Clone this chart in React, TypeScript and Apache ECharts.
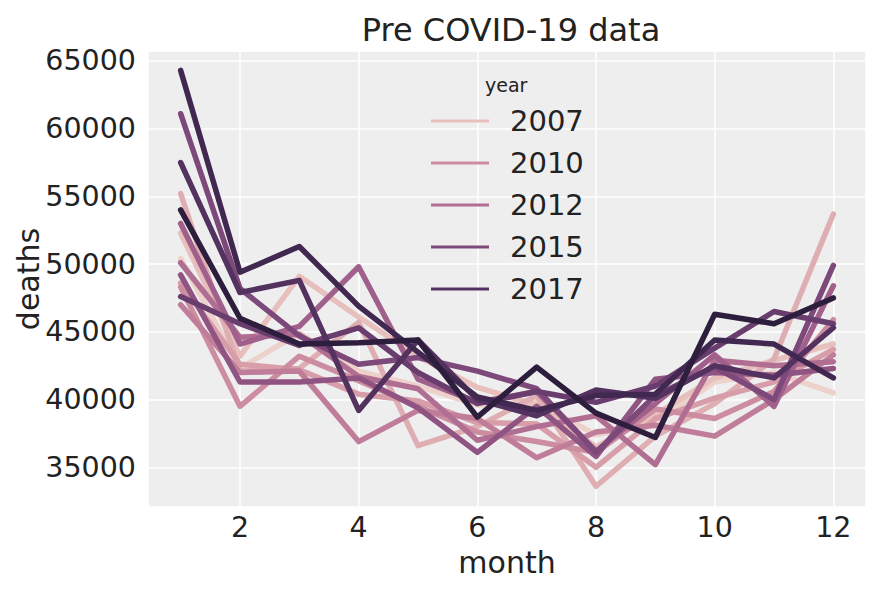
import React, { useEffect, useRef } from "react";
import * as echarts from "echarts";

const months = [1, 2, 3, 4, 5, 6, 7, 8, 9, 10, 11, 12];
const years = [2006, 2007, 2008, 2009, 2010, 2011, 2012, 2013, 2014, 2015, 2016, 2017, 2018, 2019];
const legendYears = ["2007", "2010", "2012", "2015", "2017"];

const deaths2006 = [50400, 42300, 44900, 42100, 41000, 39600, 39800, 37400, 38400, 41300, 42000, 40500];
const deaths2007 = [52300, 43200, 49100, 46100, 43200, 40900, 39600, 36500, 38900, 41600, 42900, 44100];
const deaths2008 = [55200, 42100, 42300, 45700, 36600, 38000, 40300, 33600, 37300, 39700, 43000, 53700];
const deaths2009 = [48600, 42600, 42200, 40400, 39900, 38300, 38200, 35000, 38600, 40100, 41300, 43700];
const deaths2010 = [48300, 39500, 43200, 41400, 39500, 37600, 36900, 36100, 39300, 38600, 40600, 45900];
const deaths2011 = [47000, 42000, 42100, 36900, 39200, 38600, 35700, 37600, 38100, 37300, 40000, 43300];
const deaths2012 = [50100, 44600, 44800, 41700, 40800, 37000, 38000, 38800, 35200, 42900, 42500, 42800];
const deaths2013 = [53000, 44100, 45400, 49800, 41500, 39800, 40600, 36200, 39700, 43300, 39500, 48400];
const deaths2014 = [49200, 41300, 41300, 41600, 39400, 36100, 39500, 35800, 41500, 42000, 41800, 42300];
const deaths2015 = [61100, 48200, 44700, 42600, 43100, 42100, 40800, 36100, 40300, 42400, 40000, 49900];
const deaths2016 = [47600, 45600, 44000, 45300, 42000, 39700, 40600, 39800, 41000, 43800, 46500, 45600];
const deaths2017 = [57500, 47900, 48800, 39200, 44400, 40000, 38800, 40700, 40100, 42500, 41600, 45300];
const deaths2018 = [64300, 49400, 51300, 46900, 43500, 40200, 39200, 40300, 40400, 44400, 44100, 41600];
const deaths2019 = [54000, 46000, 44100, 44200, 44400, 38700, 42400, 39000, 37200, 46300, 45600, 47500];

const deathsByYear = [
  deaths2006, deaths2007, deaths2008, deaths2009, deaths2010, deaths2011, deaths2012,
  deaths2013, deaths2014, deaths2015, deaths2016, deaths2017, deaths2018, deaths2019,
];

// seaborn cubehelix_palette(as_cmap=True): start=0, rot=.4, gamma=1, hue=.8, light=.85, dark=.15
function cubehelixColor(t: number): string {
  const x = 0.85 + (0.15 - 0.85) * t;
  const a = (0.8 * x * (1 - x)) / 2;
  const phi = 2 * Math.PI * (0.4 * x);
  const c = Math.cos(phi);
  const s = Math.sin(phi);
  const clip = (v: number) => Math.max(0, Math.min(1, v));
  const r = clip(x + a * (-0.14861 * c + 1.78277 * s));
  const g = clip(x + a * (-0.29227 * c - 0.90649 * s));
  const b = clip(x + a * (1.97294 * c));
  const h = (v: number) => Math.round(v * 255).toString(16).padStart(2, "0");
  return "#" + h(r) + h(g) + h(b);
}

const FONT = "DejaVu Sans";
const TEXT = "#222222";

export default function App() {
  const ref = useRef<HTMLDivElement>(null);
  useEffect(() => {
    document.body.style.margin = "0";
    if (!ref.current) return;
    const chart = echarts.init(ref.current, undefined, { renderer: "svg" });
    const yMin = years[0];
    const yMax = years[years.length - 1];
    const series = years.map((yr, i) => ({
      name: String(yr),
      type: "line",
      data: months.map((m, j) => [m, deathsByYear[i][j]]),
      showSymbol: false,
      symbol: "none",
      color: cubehelixColor((yr - yMin) / (yMax - yMin)),
      lineStyle: { width: 5.5, cap: "round", join: "round" },
      z: 2 + i,
    }));
    chart.setOption({
      animation: false,
      backgroundColor: "#ffffff",
      title: {
        text: "Pre COVID-19 data",
        left: 506,
        textAlign: "center",
        top: 9,
        textStyle: { fontFamily: FONT, fontSize: 32, fontWeight: "normal", color: TEXT },
      },
      grid: {
        left: 148,
        right: 14,
        top: 51,
        bottom: 85,
        show: true,
        containLabel: false,
        outerBoundsMode: "none",
        backgroundColor: "#eeeeee",
        borderWidth: 0,
      },
      legend: {
        data: legendYears,
        orient: "vertical",
        left: 431,
        top: 105,
        padding: 0,
        icon: "rect",
        itemWidth: 58,
        itemHeight: 3,
        itemGap: 10,
        selectedMode: false,
        textStyle: {
          fontFamily: FONT,
          fontSize: 29,
          color: TEXT,
          lineHeight: 32,
          padding: [0, 0, 0, 16],
        },
      },
      graphic: [
        {
          type: "text",
          left: 485,
          top: 75,
          style: { text: "year", fontFamily: FONT, fontSize: 19, fill: TEXT },
        },
      ],
      xAxis: {
        type: "value",
        min: 0.45,
        max: 12.55,
        splitNumber: 5,
        name: "month",
        nameLocation: "middle",
        nameGap: 40,
        nameMoveOverlap: false,
        nameTextStyle: { fontFamily: FONT, fontSize: 30, color: TEXT },
        axisLine: { show: false },
        axisTick: { show: false },
        axisLabel: {
          fontFamily: FONT,
          fontSize: 28.5,
          color: TEXT,
          margin: 6,
          formatter: (v: number) => (Number.isInteger(v) ? String(v) : ""),
        },
        splitLine: { show: true, lineStyle: { color: "#ffffff", width: 1.5 } },
      },
      yAxis: {
        type: "value",
        min: 32070,
        max: 65730,
        splitNumber: 5,
        name: "deaths",
        nameLocation: "middle",
        nameGap: 105,
        nameRotate: 90,
        nameMoveOverlap: false,
        nameTextStyle: { fontFamily: FONT, fontSize: 30, color: TEXT },
        axisLine: { show: false },
        axisTick: { show: false },
        axisLabel: {
          fontFamily: FONT,
          fontSize: 28.5,
          color: TEXT,
          margin: 12,
          formatter: (v: number) => (v % 5000 === 0 ? String(v) : ""),
        },
        splitLine: { show: true, lineStyle: { color: "#ffffff", width: 1.5 } },
      },
      series,
    });
    return () => chart.dispose();
  }, []);
  return <div ref={ref} style={{ width: 880, height: 592 }} />;
}
